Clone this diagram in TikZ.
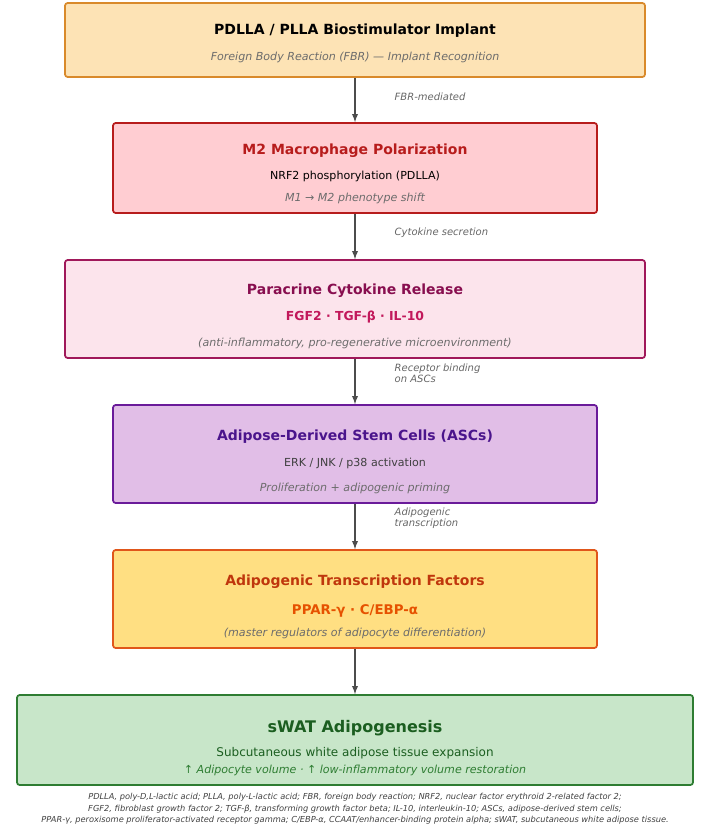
\documentclass[tikz,border=0pt]{standalone}
\usepackage{fontspec}
\setmainfont{DejaVu Sans}
\definecolor{f1}{HTML}{FDE3B5}\definecolor{b1}{HTML}{D98A2B}
\definecolor{f2}{HTML}{FFCDD2}\definecolor{b2}{HTML}{B71C1C}
\definecolor{f3}{HTML}{FCE4EC}\definecolor{b3}{HTML}{A0185A}
\definecolor{f4}{HTML}{E1BEE7}\definecolor{b4}{HTML}{6A1B9A}
\definecolor{f5}{HTML}{FFDF82}\definecolor{b5}{HTML}{E0561A}
\definecolor{f6}{HTML}{C8E6C9}\definecolor{b6}{HTML}{2E7D32}
\definecolor{c3}{HTML}{880E4F}\definecolor{d3}{HTML}{C2185B}
\definecolor{c4}{HTML}{4A148C}
\definecolor{c5}{HTML}{BF360C}\definecolor{d5}{HTML}{E65100}
\definecolor{c6}{HTML}{1B5E20}
\begin{document}
\begin{tikzpicture}[x=0.75pt,y=-0.75pt,
 box/.style={draw=#1,line width=1.3pt,rounded corners=2pt},
 ttl/.style={font=\fontsize{10.5}{12}\selectfont\bfseries,anchor=center},
 ln/.style={font=\fontsize{8.3}{10}\selectfont,anchor=center},
 it/.style={font=\fontsize{8.3}{10}\selectfont\itshape,text=gray!85!black,anchor=center},
 lab/.style={font=\fontsize{7.5}{8.5}\selectfont\itshape,text=gray!80!black,anchor=west,align=left},
 arr/.style={-latex,line width=1.1pt,draw=black!70},
 foot/.style={font=\fontsize{6.2}{9}\selectfont\itshape,text=black!75,anchor=center}]
\useasboundingbox (0,0) rectangle (709,824);
\node[box=b1,fill=f1,minimum width=580*0.75pt,minimum height=74*0.75pt] (n1) at (355,40) {};
\node[box=b2,fill=f2,minimum width=484*0.75pt,minimum height=90*0.75pt] (n2) at (355,168) {};
\node[box=b3,fill=f3,minimum width=580*0.75pt,minimum height=98*0.75pt] (n3) at (355,309) {};
\node[box=b4,fill=f4,minimum width=484*0.75pt,minimum height=98*0.75pt] (n4) at (355,454) {};
\node[box=b5,fill=f5,minimum width=484*0.75pt,minimum height=98*0.75pt] (n5) at (355,599) {};
\node[box=b6,fill=f6,minimum width=676*0.75pt,minimum height=90*0.75pt] (n6) at (355,740) {};
\node[ttl] (t1) at (355,31) {PDLLA / PLLA Biostimulator Implant};
\node[it] (s1) at (355,57) {Foreign Body Reaction (FBR) — Implant Recognition};
\node[ttl,text=b2] (t2) at (355,151) {M2 Macrophage Polarization};
\node[ln] (l2) at (355,176) {NRF2 phosphorylation (PDLLA)};
\node[it] (s2) at (355,198) {M1 → M2 phenotype shift};
\node[ttl,text=c3] (t3) at (355,291) {Paracrine Cytokine Release};
\node[ln,font=\fontsize{9.3}{11}\selectfont\bfseries,text=d3] (l3) at (355,317) {FGF2 · TGF-β · IL-10};
\node[it] (s3) at (355,343) {(anti-inflammatory, pro-regenerative microenvironment)};
\node[ttl,text=c4] (t4) at (355,437) {Adipose-Derived Stem Cells (ASCs)};
\node[ln,text=black!75] (l4) at (355,463) {ERK / JNK / p38 activation};
\node[it] (s4) at (355,488) {Proliferation + adipogenic priming};
\node[ttl,text=c5] (t5) at (355,582) {Adipogenic Transcription Factors};
\node[ln,font=\fontsize{10}{12}\selectfont\bfseries,text=d5] (l5) at (355,611) {PPAR-γ · C/EBP-α};
\node[it] (s5) at (355,633) {(master regulators of adipocyte differentiation)};
\node[ttl,font=\fontsize{12}{14}\selectfont\bfseries,text=c6] (t6) at (355,728) {sWAT Adipogenesis};
\node[ln,font=\fontsize{9}{11}\selectfont,text=c6] (l6) at (355,753) {Subcutaneous white adipose tissue expansion};
\node[it,text=b6] (s6) at (355,770) {↑ Adipocyte volume · ↑ low-inflammatory volume restoration};
\draw[arr] (n1.south) -- (n2.north);
\draw[arr] (n2.south) -- (n3.north);
\draw[arr] (n3.south) -- (n4.north);
\draw[arr] (n4.south) -- (n5.north);
\draw[arr] (n5.south) -- (n6.north);
\node[lab] (a1) at (390,97) {FBR-mediated};
\node[lab] (a2) at (390,233) {Cytokine secretion};
\node[lab] (a3) at (390,373) {Receptor binding\\on ASCs};
\node[lab] (a4) at (390,518) {Adipogenic\\transcription};
\node[foot] (f1) at (355,797) {PDLLA, poly-D,L-lactic acid; PLLA, poly-L-lactic acid; FBR, foreign body reaction; NRF2, nuclear factor erythroid 2-related factor 2;};
\node[foot] (f2) at (355,809) {FGF2, fibroblast growth factor 2; TGF-β, transforming growth factor beta; IL-10, interleukin-10; ASCs, adipose-derived stem cells;};
\node[foot] (f3) at (355,820) {PPAR-γ, peroxisome proliferator-activated receptor gamma; C/EBP-α, CCAAT/enhancer-binding protein alpha; sWAT, subcutaneous white adipose tissue.};
\end{tikzpicture}
\end{document}
